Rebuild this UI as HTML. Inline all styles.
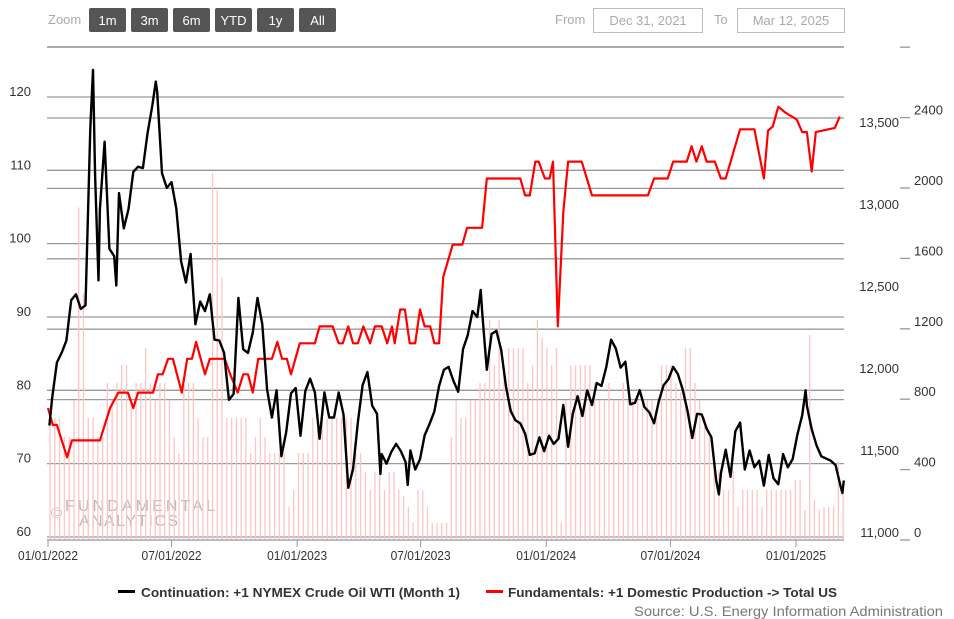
<!DOCTYPE html>
<html><head><meta charset="utf-8"><style>
html,body{margin:0;padding:0;background:#fff;}
svg{display:block;font-family:"Liberation Sans",Arial,sans-serif;}
</style></head><body>
<svg id="chart" width="954" height="619" viewBox="0 0 954 619" xmlns="http://www.w3.org/2000/svg">
<g>
<text x="48" y="24" font-size="13" fill="#aaa">Zoom</text>
<g><rect x="89" y="8" width="37" height="24" rx="2" fill="#555"/><text x="107.5" y="25" font-size="13" fill="#fff" text-anchor="middle">1m</text></g>
<g><rect x="131" y="8" width="37" height="24" rx="2" fill="#555"/><text x="149.5" y="25" font-size="13" fill="#fff" text-anchor="middle">3m</text></g>
<g><rect x="173" y="8" width="37" height="24" rx="2" fill="#555"/><text x="191.5" y="25" font-size="13" fill="#fff" text-anchor="middle">6m</text></g>
<g><rect x="215" y="8" width="37" height="24" rx="2" fill="#555"/><text x="233.5" y="25" font-size="13" fill="#fff" text-anchor="middle">YTD</text></g>
<g><rect x="257" y="8" width="37" height="24" rx="2" fill="#555"/><text x="275.5" y="25" font-size="13" fill="#fff" text-anchor="middle">1y</text></g>
<g><rect x="299" y="8" width="37" height="24" rx="2" fill="#555"/><text x="317.5" y="25" font-size="13" fill="#fff" text-anchor="middle">All</text></g>
<text x="555" y="24" font-size="13" fill="#aaa">From</text>
<g><rect x="593.5" y="8.5" width="109" height="24" fill="#fff" stroke="#bbb"/><text x="648" y="25" font-size="13" fill="#aaa" text-anchor="middle">Dec 31, 2021</text></g>
<text x="714" y="24" font-size="13" fill="#aaa">To</text>
<g><rect x="737.5" y="8.5" width="107" height="24" fill="#fff" stroke="#bbb"/><text x="791" y="25" font-size="13" fill="#aaa" text-anchor="middle">Mar 12, 2025</text></g>
</g>
<g id="grid"></g>
<g fill="#bbb">
<text x="51" y="518" font-size="15">©</text>
<text x="65" y="511" font-size="16" textLength="150" lengthAdjust="spacing">FUNDAMENTAL</text>
<text x="79" y="526" font-size="16" textLength="99" lengthAdjust="spacing">ANALYTICS</text>
</g>
<g id="bars"></g>
<g id="lines"></g>
<g id="axes"></g>
<g>
<g><rect x="118" y="590" width="17" height="3" fill="#000"/><text x="141" y="597" font-size="13" font-weight="bold" fill="#333" textLength="319" lengthAdjust="spacingAndGlyphs">Continuation: +1 NYMEX Crude Oil WTI (Month 1)</text></g>
<g><rect x="486" y="590" width="17" height="3" fill="#f00"/><text x="508" y="597" font-size="13" font-weight="bold" fill="#333" textLength="329" lengthAdjust="spacingAndGlyphs">Fundamentals: +1 Domestic Production -&gt; Total US</text></g>
</g>
<text x="943" y="616" font-size="14" fill="#777" text-anchor="end" textLength="309" lengthAdjust="spacingAndGlyphs">Source: U.S. Energy Information Administration</text>
</svg>
<script>
const wtiStart = '2022-01-07';
const wtiWeekly = [78.9,83.8,85.1,86.8,92.3,93.1,91.1,91.6,115.7,109.3,104.7,113.9,99.3,98.3,106.9,102.1,104.7,109.8,110.5,110.3,115.1,118.9,120.7,109.6,107.6,108.4,104.8,97.6,94.7,98.6,89.0,92.1,90.8,93.1,86.9,86.8,85.1,78.7,79.5,92.6,85.6,85.1,87.9,92.6,89.0,80.1,76.3,80.0,71.0,74.3,79.6,80.3,
73.8,79.9,81.6,79.7,73.4,79.7,76.3,76.3,79.7,76.7,66.7,69.3,75.7,80.7,82.5,77.9,76.8,71.3,70.0,71.6,72.7,71.7,70.2,71.8,69.2,70.6,73.9,75.4,77.1,80.6,82.8,83.2,81.3,79.8,85.6,87.5,90.8,90.0,90.8,82.8,87.7,88.1,85.5,80.5,77.2,75.9,75.5,74.1,71.2,71.4,73.6,71.7,
73.8,72.7,73.4,78.0,72.3,76.8,79.2,76.5,80.0,78.0,81.0,80.6,83.2,86.9,85.7,83.1,83.9,78.1,78.3,80.0,77.7,77.0,75.5,78.5,80.7,81.5,83.2,82.2,80.1,77.2,73.5,76.8,76.7,74.8,73.6,67.7,68.7,71.9,68.2,74.4,75.6,69.2,71.8,69.5,70.4,67.0,71.2,68.0,67.2,71.3,69.5,70.6,
73.96,76.6,77.9,74.7,72.5,71.0,70.7,70.4,69.8,67.0];
const wtiExtraDates = ['2022-01-03','2022-03-08','2022-03-16','2022-04-11','2022-06-08','2023-05-03','2023-06-12','2023-09-27','2024-09-10','2025-01-15','2025-03-10','2025-03-12'];
const wtiExtraValues = [75.2,123.7,95.0,94.3,122.1,68.6,67.1,93.7,65.8,80.0,66.0,67.7];
const prodDays = [0,7,13,28,35,76,91,103,117,125,132,154,161,168,176,183,196,204,211,217,230,237,259,267,278,286,293,300,308,328,336,343,350,356,369,391,398,417,426,432,440,447,454,462,472,479,489,497,504,508,516,523,530,538,545,552,560,566,573,579,593,607,614,636,643,692,699,706,714,719,728,735,740,747,755,762,782,797,879,888,908,916,936,943,950,958,965,977,986,993,1014,1035,1049,1055,1062,1070,1080,1097,1105,1112,1119,1125,1134,1153,1160];
const prodValues = [11440,11320,11320,11090,11210,11210,11440,11550,11550,11440,11550,11550,11680,11680,11790,11790,11550,11790,11790,11910,11680,11790,11790,11680,11550,11680,11680,11550,11790,11790,11910,11790,11790,11680,11900,11900,12020,12020,11900,11900,12020,11900,11900,12020,11900,12020,12020,11900,12020,11900,12140,12140,11900,11900,12140,12020,12020,11900,11900,12370,12600,12600,12720,12720,13070,13070,12950,12950,13190,13190,13070,13070,13190,12020,12830,13190,13190,12950,12950,13070,13070,13190,13190,13300,13190,13300,13190,13190,13070,13070,13420,13420,13070,13410,13440,13580,13540,13490,13400,13400,13120,13400,13410,13430,13510];
const barStart = '2022-01-01';
const barValues = [693,693,693,585,585,795,1890,1400,693,693,585,585,892,795,892,994,994,795,892,892,1090,892,795,892,892,795,585,494,892,892,892,693,585,585,2085,1990,1490,693,693,693,693,693,494,585,693,585,494,494,494,494,188,284,494,494,494,693,693,693,693,693,693,693,693,693,494,494,386,284,386,386,284,386,386,284,250,188,97,284,284,188,97,97,97,
97,585,795,693,693,795,795,892,892,1250,994,1250,994,1090,1090,1090,1090,892,994,1250,1150,1090,994,1090,97,795,994,994,994,994,994,892,795,795,892,795,795,892,795,795,795,795,795,795,693,994,994,994,892,840,1090,1090,892,795,693,585,494,398,284,284,398,188,284,284,284,284,188,284,284,284,284,284,284,340,340,170,1165,230,170,188,188,188,450,284];
const leftTicks = [60,70,80,90,100,110,120];
const prodTicks = [11000,11500,12000,12500,13000,13500];
const prodTickLabels = ['11,000','11,500','12,000','12,500','13,000','13,500'];
const barTicks = [0,400,800,1200,1600,2000,2400,2800];
const xTickDates = ['2022-01-01','2022-07-01','2023-01-01','2023-07-01','2024-01-01','2024-07-01','2025-01-01'];
const xTickLabels = ['01/01/2022','07/01/2022','01/01/2023','07/01/2023','01/01/2024','07/01/2024','01/01/2025'];

const NS='http://www.w3.org/2000/svg';
const T0=Date.UTC(2022,0,1), DAY=86400000;
function dayOf(s){const p=s.split('-');return (Date.UTC(+p[0],+p[1]-1,+p[2])-T0)/DAY;}
function xOfDay(d){return 48+d*0.6825;}
function yLeft(v){return 97+(120-v)*7.333;}
function yProd(v){return 118+(13500-v)*0.1408;}
function yBar(v){return 540-v*0.176;}
function mk(tag,attrs,parent){const e=document.createElementNS(NS,tag);for(const k in attrs)e.setAttribute(k,attrs[k]);parent.appendChild(e);return e;}

const grid=document.getElementById('grid');
const gl=mk('line',{x1:47,x2:844,y1:47,y2:47,stroke:'#aaa','stroke-width':2},grid);


leftTicks.forEach(v=>{const l=mk('line',{x1:47,x2:844,y1:yLeft(v),y2:yLeft(v),stroke:'#999','stroke-width':1.3},grid);

});
prodTicks.slice(1).forEach(v=>{const l=mk('line',{x1:47,x2:844,y1:yProd(v),y2:yProd(v),stroke:'#999','stroke-width':1.3},grid);

});

const bars=document.getElementById('bars');
const b0=dayOf(barStart);
barValues.forEach((v,i)=>{const x=xOfDay(b0+7*i)+2;const r=mk('rect',{x:x-0.6,y:yBar(v),width:1.3,height:540-yBar(v),fill:'#ffc4c4'},bars);

});

const lines=document.getElementById('lines');
let pts=[];const w0=dayOf(wtiStart);
wtiWeekly.forEach((v,i)=>pts.push([w0+7*i,v]));
wtiExtraDates.forEach((d,i)=>pts.push([dayOf(d),wtiExtraValues[i]]));
pts.sort((a,b)=>a[0]-b[0]);
const rp=prodDays.map((d,i)=>xOfDay(d).toFixed(1)+','+yProd(prodValues[i]).toFixed(1)).join(' ');
const red=mk('polyline',{points:rp,fill:'none',stroke:'#f00','stroke-width':2.2,'stroke-linejoin':'round'},lines);


const bp=pts.map(p=>xOfDay(p[0]).toFixed(1)+','+yLeft(p[1]).toFixed(1)).join(' ');
const blk=mk('polyline',{points:bp,fill:'none',stroke:'#000','stroke-width':2.4,'stroke-linejoin':'round'},lines);



const axes=document.getElementById('axes');
const xa=mk('line',{x1:47,x2:844,y1:540,y2:540,stroke:'#999','stroke-width':1.3},axes);


xTickDates.forEach((d,i)=>{const x=xOfDay(dayOf(d));
const t=mk('line',{x1:x,x2:x,y1:540,y2:547,stroke:'#999'},axes);


const tx=mk('text',{x:x,y:560,'font-size':12.5,fill:'#333','text-anchor':'middle',textLength:60,lengthAdjust:'spacingAndGlyphs'},axes);tx.textContent=xTickLabels[i];

});
leftTicks.forEach(v=>{const t=mk('text',{x:31,y:yLeft(v)-1,'font-size':13,fill:'#333','text-anchor':'end'},axes);t.textContent=v;

});
prodTicks.forEach((v,i)=>{const y=122+(13500-v)*0.164;const t=mk('text',{x:899,y:y+5,'font-size':13,fill:'#333','text-anchor':'end'},axes);t.textContent=prodTickLabels[i];

});
barTicks.forEach(v=>{const y=yBar(v);const d=mk('line',{x1:900,x2:910,y1:y,y2:y,stroke:'#999','stroke-width':1.3},axes);


if(v<2800){const t=mk('text',{x:914,y:y-3,'font-size':13,fill:'#333'},axes);t.textContent=v;

}});
</script>
</body></html>
